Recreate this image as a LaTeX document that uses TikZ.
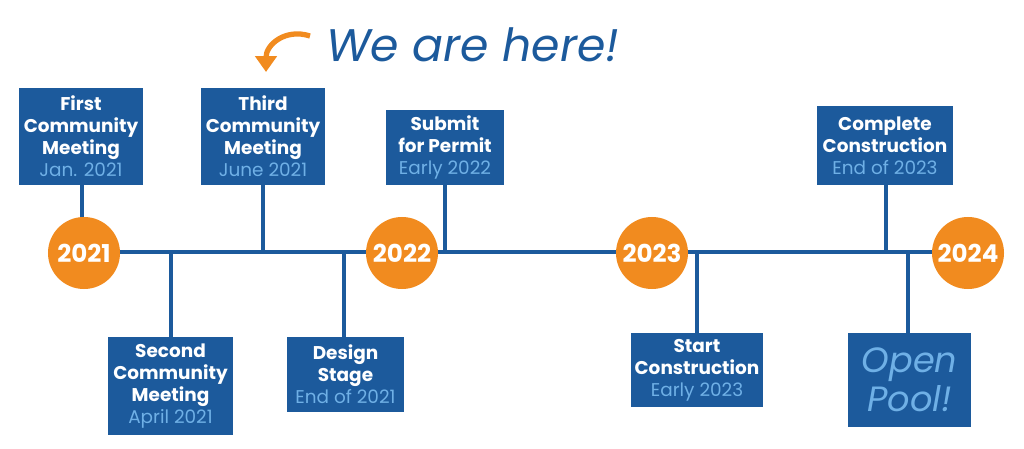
\documentclass[tikz,border=0pt]{standalone}
\usepackage{fontspec}
\setmainfont{Poppins}
\usetikzlibrary{arrows.meta}
\definecolor{tlblue}{HTML}{1C5A9C}
\definecolor{tlsub}{HTML}{6FB0E6}
\definecolor{tlorange}{HTML}{F18B1F}
\newcommand{\sub}[1]{{\color{tlsub}\fontseries{m}\selectfont #1}}
\tikzset{
  year/.style={circle, fill=tlorange, minimum size=72pt*0.02/0.03514, text=white, font=\bfseries\fontsize{14}{14}\selectfont, inner sep=0pt},
  event/.style={fill=tlblue, text=white, align=center, font=\bfseries\fontsize{10.5}{12.5}\selectfont, inner sep=0pt},
  stem/.style={draw=tlblue, line width=2.2pt}
}
\begin{document}
\begin{tikzpicture}[x=0.02cm, y=-0.02cm]
  \useasboundingbox (0,0) rectangle (1024,449);
  % time line
  \coordinate (start) at (84,252);
  \coordinate (stop) at (968,252);
  \draw[stem] (start) -- (stop);
  % events above
  \node[event, minimum width=124*0.02cm, minimum height=97*0.02cm] (e1) at (81,136.5) {First\\Community\\Meeting\\\sub{Jan. 2021}};
  \node[event, minimum width=124*0.02cm, minimum height=97*0.02cm] (e3) at (263,136.5) {Third\\Community\\Meeting\\\sub{June 2021}};
  \node[event, minimum width=118*0.02cm, minimum height=75*0.02cm] (e4) at (445,147.5) {Submit\\for Permit\\\sub{Early 2022}};
  \node[event, minimum width=136*0.02cm, minimum height=79*0.02cm] (e6) at (885,145.5) {Complete\\Construction\\\sub{End of 2023}};
  % events below
  \node[event, minimum width=125*0.02cm, minimum height=98*0.02cm] (e2) at (170.5,386) {Second\\Community\\Meeting\\\sub{April 2021}};
  \node[event, minimum width=117*0.02cm, minimum height=75*0.02cm] (e5) at (345.5,374.5) {Design\\Stage\\\sub{End of 2021}};
  \node[event, minimum width=132*0.02cm, minimum height=74*0.02cm] (e7) at (697,370) {Start\\Construction\\\sub{Early 2023}};
  \node[event, minimum width=123*0.02cm, minimum height=94*0.02cm, font=\itshape\fontsize{20}{22}\selectfont, text=tlsub] (e8) at (909.5,380) {Open\\Pool!};
  % stems
  \foreach \e/\x in {e1/82, e3/263, e4/445, e6/886} {
    \draw[stem] (\e.south -| \x,0) -- (\x,252);
  }
  \foreach \e/\x in {e2/171, e5/344, e7/697, e8/908} {
    \draw[stem] (\e.north -| \x,0) -- (\x,252);
  }
  % years
  \node[year] (y1) at (84,253) {2021};
  \node[year] (y2) at (402,253) {2022};
  \node[year] (y3) at (652,253) {2023};
  \node[year] (y4) at (968,253) {2024};
  % we are here
  \node[text=tlblue, font=\itshape\fontsize{26}{26}\selectfont, anchor=west] (here) at (320,45) {We are here!};
  \coordinate (tail) at (310,36);
  \coordinate (tip) at (266,72);
  \draw[tlorange, line width=3pt, -{Triangle[length=9pt,width=12pt]}] (tail) .. controls (285,28) and (266,45) .. (tip);
\end{tikzpicture}
\end{document}
